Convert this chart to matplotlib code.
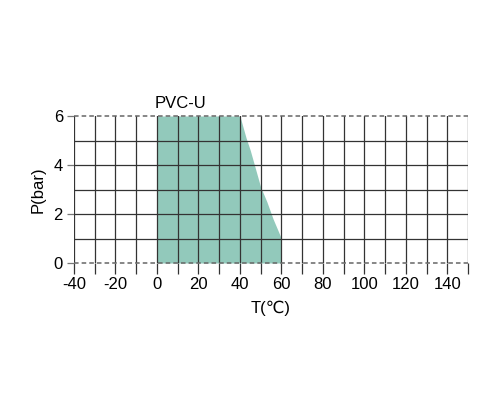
import matplotlib
matplotlib.use("Agg")
import matplotlib.pyplot as plt

temp = [0, 40, 41, 43, 45, 47, 50, 53, 56, 58, 60, 60]
pressure = [6, 6, 5.7, 5.1, 4.6, 4.0, 3.1, 2.5, 1.8, 1.4, 1.0, 0]
xticks = [-40, -20, 0, 20, 40, 60, 80, 100, 120, 140]
yticks = [0, 2, 4, 6]

plt.rcParams['font.family'] = ['Liberation Sans', 'DejaVu Sans']
plt.rcParams['axes.unicode_minus'] = False
fig = plt.figure(figsize=(5, 4), dpi=100)
ax = fig.add_axes([0.148, 0.3425, 0.788, 0.3675])
ax.fill_between(temp, pressure, 0, color='#92c9bb', lw=0, zorder=1)
for x in range(-40, 151, 10):
    ax.axvline(x, color='#333333', lw=0.9, zorder=2)
for y in range(1, 6):
    ax.axhline(y, color='#333333', lw=0.9, zorder=2)
for y in (0, 6):
    ax.axhline(y, color='#666666', lw=1.1, ls=(0, (3, 2)), zorder=3, clip_on=False)
ax.set_xlim(-40, 150)
ax.set_ylim(0, 6)
for s in ax.spines.values():
    s.set_visible(False)
ax.set_xticks(range(-40, 151, 10), minor=True)
ax.set_xticks(xticks)
ax.set_yticks(yticks)
ax.tick_params(axis='x', which='both', length=8, width=0.9, color='#333333', labelsize=12, pad=2)
ax.tick_params(axis='y', length=5, width=0.9, color='#777777', labelsize=12, pad=3)
ax.set_xlabel('T(℃)', fontsize=12, labelpad=6)
ax.set_ylabel('P(bar)', fontsize=12, labelpad=6)
ax.set_title('PVC-U', fontsize=12, loc='left', x=0.205, pad=6)
fig.savefig('out.png', dpi=100)
